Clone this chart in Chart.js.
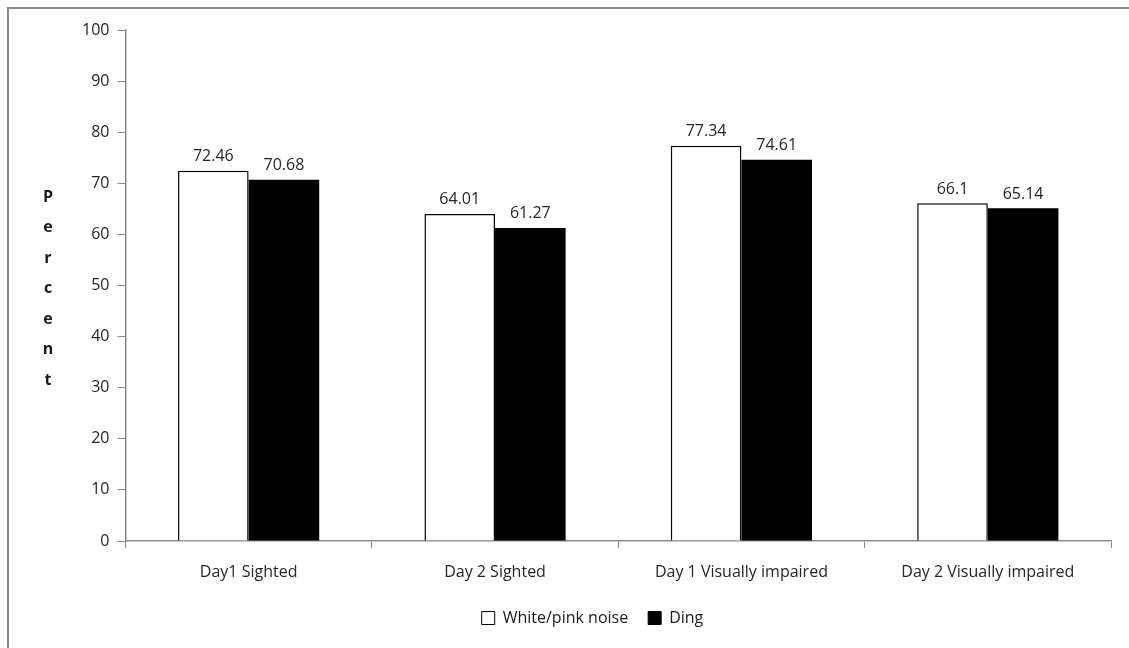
<!DOCTYPE html>
<html>
<head>
<meta charset="utf-8">
<script src="https://cdn.jsdelivr.net/npm/chart.js@4.4.1/dist/chart.umd.min.js"></script>
<style>
  html, body { margin: 0; padding: 0; background: #fff; }
  #frame {
    position: absolute; left: 7px; top: 7px; width: 1122px; height: 641px;
    border-top: 2px solid #8a8a8a; border-left: 2px solid #8a8a8a;
    box-sizing: border-box;
  }
  #wrap { position: absolute; left: 0; top: 0; width: 1129px; height: 648px; }
</style>
</head>
<body>
<div id="frame"></div>
<div id="wrap"><canvas id="chart"></canvas></div>
<script>
const categories = ['Day1 Sighted', 'Day 2 Sighted', 'Day 1 Visually impaired', 'Day 2 Visually impaired'];
const noiseValues = [72.46, 64.01, 77.34, 66.1];
const dingValues = [70.68, 61.27, 74.61, 65.14];
const yTicks = [0, 10, 20, 30, 40, 50, 60, 70, 80, 90, 100];
const yTitle = 'Percent';

const fontFamily = "'Open Sans', 'Liberation Sans', sans-serif";

// value labels above each bar
const valueLabels = {
  id: 'valueLabels',
  afterDatasetsDraw(chart) {
    const ctx = chart.ctx;
    ctx.save();
    ctx.font = '16px ' + fontFamily;
    ctx.fillStyle = '#262626';
    ctx.textAlign = 'center';
    ctx.textBaseline = 'bottom';
    chart.data.datasets.forEach((ds, i) => {
      chart.getDatasetMeta(i).data.forEach((bar, j) => {
        ctx.fillText(String(ds.data[j]), bar.x, bar.y - 6);
      });
    });
    ctx.restore();
  }
};

// stacked letters for the y axis title
const stackedTitle = {
  id: 'stackedTitle',
  afterDraw(chart) {
    const ctx = chart.ctx;
    const area = chart.chartArea;
    ctx.save();
    ctx.font = 'bold 16px ' + fontFamily;
    ctx.fillStyle = '#1a1a1a';
    ctx.textAlign = 'center';
    ctx.textBaseline = 'middle';
    const letters = yTitle.split('');
    const step = 30.5;
    const mid = (area.top + area.bottom) / 2 + 3;
    const start = mid - step * (letters.length - 1) / 2;
    letters.forEach((ch, i) => ctx.fillText(ch, 48, start + i * step));
    ctx.restore();
  }
};

new Chart(document.getElementById('chart'), {
  type: 'bar',
  data: {
    labels: categories,
    datasets: [
      {
        label: 'White/pink noise',
        data: noiseValues,
        backgroundColor: '#ffffff',
        borderColor: '#000000',
        borderWidth: 1.5,
        borderSkipped: 'bottom'
      },
      {
        label: 'Ding',
        data: dingValues,
        backgroundColor: '#000000',
        borderColor: '#000000',
        borderWidth: 0
      }
    ]
  },
  options: {
    responsive: true,
    maintainAspectRatio: false,
    animation: false,
    layout: { padding: { left: 74, right: 18, top: 30, bottom: 12 } },
    datasets: { bar: { barPercentage: 1.0, categoryPercentage: 0.573 } },
    plugins: {
      tooltip: { enabled: false },
      legend: {
        position: 'bottom',
        labels: {
          font: { family: fontFamily, size: 16 },
          color: '#1a1a1a',
          boxWidth: 13,
          boxHeight: 13,
          padding: 20,
          generateLabels(chart) {
            return chart.data.datasets.map((ds, i) => ({
              text: ds.label,
              fillStyle: ds.backgroundColor,
              strokeStyle: '#000000',
              lineWidth: 1,
              datasetIndex: i,
              fontColor: '#1a1a1a'
            }));
          }
        }
      }
    },
    scales: {
      x: {
        afterFit(scale) {
          scale.height = 49;
        },
        grid: {
          display: true,
          drawOnChartArea: false,
          offset: true,
          tickLength: 7,
          color: '#8a8a8a'
        },
        border: { color: '#8a8a8a', width: 1.5 },
        ticks: {
          font: { family: fontFamily, size: 16 },
          color: '#262626',
          maxRotation: 0,
          padding: 15
        }
      },
      y: {
        min: 0,
        max: 100,
        afterBuildTicks(scale) {
          scale.ticks = yTicks.map(v => ({ value: v }));
        },
        grid: {
          display: true,
          drawOnChartArea: false,
          tickLength: 8,
          color: '#8a8a8a'
        },
        border: { color: '#8a8a8a', width: 1.5 },
        ticks: {
          font: { family: fontFamily, size: 16 },
          color: '#262626',
          padding: 8
        }
      }
    }
  },
  plugins: [valueLabels, stackedTitle]
});
</script>
</body>
</html>
